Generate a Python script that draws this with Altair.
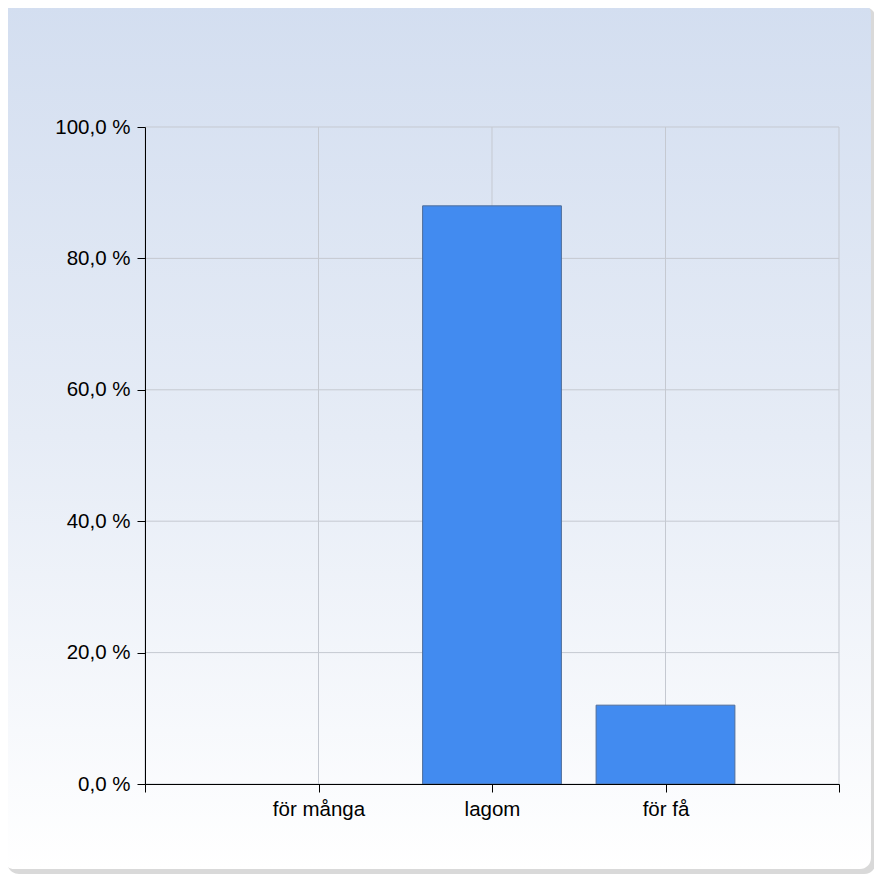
import altair as alt
import pandas as pd

categories = ["för många", "lagom", "för få"]
positions = [1, 2, 3]
values = [0.0, 88.0, 12.0]
y_ticks = [0, 20, 40, 60, 80, 100]
x_ticks = [0, 1, 2, 3, 4]

FONT = "Arial, Liberation Sans, sans-serif"

bars_df = pd.DataFrame({"category": categories, "pos": positions, "value": values})
ygrid_df = pd.DataFrame({"v": y_ticks})
xgrid_df = pd.DataFrame({"p": x_ticks})

xscale = alt.Scale(domain=[0, 4], nice=False, zero=False)
yscale = alt.Scale(domain=[0, 100], nice=False)

label_map = " : ".join(
    f"datum.value == {p} ? '{c}'" for p, c in zip(positions, categories)
) + " : ''"

x_axis = alt.Axis(
    values=x_ticks, labelExpr=label_map, title=None, grid=False,
    tickSize=8, tickColor="#000000", domainColor="#000000",
    labelFont=FONT, labelFontSize=20.5, labelColor="#000000", labelPadding=7,
    zindex=1, labelFlush=False, labelOverlap=False,
)
y_axis = alt.Axis(
    values=y_ticks,
    labelExpr="replace(format(datum.value, '.1f'), '.', ',') + ' %'",
    title=None, grid=False,
    tickSize=8, tickColor="#000000", domainColor="#000000",
    labelFont=FONT, labelFontSize=20.5, labelColor="#000000", labelPadding=7,
    zindex=1, labelFlush=False, labelOverlap=False,
)

one = alt.Data(values=[{"a": 1}])

shadow = alt.Chart(one).mark_rect(
    cornerRadius=12, fill="#cfcfcf", opacity=0.8
).encode(x=alt.value(-138), x2=alt.value(731), y=alt.value(-120), y2=alt.value(747))

backdrop = alt.Chart(one).mark_rect(
    cornerRadius=11,
    fill=alt.Gradient(
        gradient="linear",
        stops=[
            alt.GradientStop(color="#d3def0", offset=0),
            alt.GradientStop(color="#e6ecf6", offset=0.5),
            alt.GradientStop(color="#ffffff", offset=1),
        ],
        x1=0, x2=0, y1=0, y2=1,
    ),
).encode(x=alt.value(-142), x2=alt.value(726), y=alt.value(-124), y2=alt.value(742))

ygrid = alt.Chart(ygrid_df).mark_rule(color="#c5c9d1", strokeWidth=1).encode(
    y=alt.Y("v:Q", scale=yscale, axis=y_axis),
)
xgrid = alt.Chart(xgrid_df).mark_rule(color="#c5c9d1", strokeWidth=1).encode(
    x=alt.X("p:Q", scale=xscale, axis=x_axis),
)

bars = alt.Chart(bars_df).transform_calculate(
    x0="datum.pos - 0.4", x1="datum.pos + 0.4", base="0"
).mark_rect(fill="#428bf0", stroke="#4f6d99", strokeWidth=1).encode(
    x=alt.X("x0:Q", scale=xscale, axis=x_axis),
    x2="x1:Q",
    y=alt.Y("value:Q", scale=yscale, axis=y_axis),
    y2="base:Q",
    strokeOpacity=alt.condition("datum.value > 0", alt.value(1), alt.value(0)),
)

chart = alt.layer(shadow, backdrop, ygrid, xgrid, bars).properties(
    width=694, height=657,
    padding={"left": 137, "top": 119, "right": 35, "bottom": 90},
    autosize=alt.AutoSizeParams(type="none"),
    background="#ffffff",
).configure_view(strokeWidth=0)

chart.save("out.html", embed_options={"renderer": "svg", "actions": False})
